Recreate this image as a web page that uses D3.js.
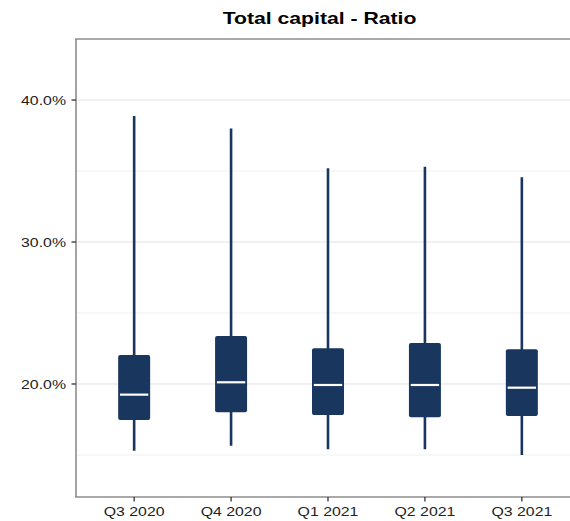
<!DOCTYPE html>
<html>
<head>
<meta charset="utf-8">
<script src="https://cdn.jsdelivr.net/npm/d3@7"></script>
<style>
  html, body { margin: 0; padding: 0; background: #fff; }
  svg { display: block; }
  text { font-family: "Liberation Sans", Arial, sans-serif; }
</style>
</head>
<body>
<div id="chart"></div>
<script>
const title = "Total capital - Ratio";
const categories = ["Q3 2020", "Q4 2020", "Q1 2021", "Q2 2021", "Q3 2021"];
const whiskerLow  = [15.3, 15.65, 15.4, 15.4, 15.0];
const q1Values    = [17.46, 18.01, 17.82, 17.65, 17.75];
const medianValues= [19.25, 20.12, 19.93, 19.93, 19.74];
const q3Values    = [22.04, 23.38, 22.51, 22.89, 22.44];
const whiskerHigh = [38.87, 38.0, 35.2, 35.3, 34.56];
const majorTicks = [20, 30, 40];
const minorTicks = [15, 25, 35];

const W = 570, H = 521;
const panel = { left: 76, right: 580, top: 39, bottom: 497 };
const boxColor = "#18365e";
const sxAxis = 1.22, sxTitle = 1.3;

const svg = d3.select("#chart").append("svg")
  .attr("width", W).attr("height", H);

const x = d3.scalePoint().domain(categories)
  .range([panel.left, panel.right]).padding(0.6);
const y = d3.scaleLinear().domain([12.04, 44.3])
  .range([panel.bottom, panel.top]);

const boxW = x.step() * 0.33;

// gridlines
svg.append("g").selectAll("line").data(minorTicks).join("line")
  .attr("x1", panel.left).attr("x2", panel.right)
  .attr("y1", d => y(d)).attr("y2", d => y(d))
  .attr("stroke", "#f0f0f0").attr("stroke-width", 1);
svg.append("g").selectAll("line").data(majorTicks).join("line")
  .attr("x1", panel.left).attr("x2", panel.right)
  .attr("y1", d => y(d)).attr("y2", d => y(d))
  .attr("stroke", "#e2e2e2").attr("stroke-width", 1);

// boxes
const data = categories.map((c, i) => ({
  c, lo: whiskerLow[i], q1: q1Values[i], med: medianValues[i], q3: q3Values[i], hi: whiskerHigh[i]
}));
const g = svg.append("g");
g.selectAll("line.whisker").data(data).join("line")
  .attr("class", "whisker")
  .attr("x1", d => x(d.c)).attr("x2", d => x(d.c))
  .attr("y1", d => y(d.lo)).attr("y2", d => y(d.hi))
  .attr("stroke", boxColor).attr("stroke-width", 2.6);
g.selectAll("rect").data(data).join("rect")
  .attr("x", d => x(d.c) - boxW / 2).attr("width", boxW)
  .attr("y", d => y(d.q3)).attr("height", d => y(d.q1) - y(d.q3))
  .attr("rx", 2).attr("ry", 2)
  .attr("fill", boxColor);
g.selectAll("line.median").data(data).join("line")
  .attr("class", "median")
  .attr("x1", d => x(d.c) - boxW / 2 + 1.8).attr("x2", d => x(d.c) + boxW / 2 - 1.8)
  .attr("y1", d => y(d.med)).attr("y2", d => y(d.med))
  .attr("stroke", "#ffffff").attr("stroke-width", 2.2);

// panel border lines (left, bottom, top)
const axisColor = "#8c8c8c";
svg.append("line").attr("x1", panel.left).attr("x2", panel.left)
  .attr("y1", panel.top).attr("y2", panel.bottom)
  .attr("stroke", axisColor).attr("stroke-width", 1.6);
svg.append("line").attr("x1", panel.left - 0.8).attr("x2", panel.right)
  .attr("y1", panel.bottom).attr("y2", panel.bottom)
  .attr("stroke", axisColor).attr("stroke-width", 1.6);
svg.append("line").attr("x1", panel.left - 0.8).attr("x2", panel.right)
  .attr("y1", panel.top).attr("y2", panel.top)
  .attr("stroke", axisColor).attr("stroke-width", 1.6);

// y ticks and labels
const yt = svg.append("g").selectAll("g").data(majorTicks).join("g")
  .attr("transform", d => `translate(${panel.left},${y(d)})`);
yt.append("line").attr("x1", -4.5).attr("x2", 0)
  .attr("stroke", "#333").attr("stroke-width", 1.3);
yt.append("g").attr("transform", `translate(-10,0) scale(${sxAxis},1)`)
  .append("text")
  .attr("text-anchor", "end").attr("dy", "0.36em")
  .attr("font-size", 13).attr("fill", "#222")
  .text(d => d3.format(".1f")(d) + "%");

// x ticks and labels
const xt = svg.append("g").selectAll("g").data(categories).join("g")
  .attr("transform", d => `translate(${x(d)},${panel.bottom})`);
xt.append("line").attr("y1", 0).attr("y2", 4.5)
  .attr("stroke", "#333").attr("stroke-width", 1.3);
xt.append("g").attr("transform", `translate(0,19) scale(${sxAxis},1)`)
  .append("text")
  .attr("text-anchor", "middle")
  .attr("font-size", 13).attr("fill", "#222")
  .text(d => d);

// title
svg.append("g").attr("transform", `translate(319.5,24) scale(${sxTitle},1)`)
  .append("text")
  .attr("text-anchor", "middle")
  .attr("font-size", 16.3).attr("font-weight", "bold").attr("fill", "#000")
  .text(title);
</script>
</body>
</html>
